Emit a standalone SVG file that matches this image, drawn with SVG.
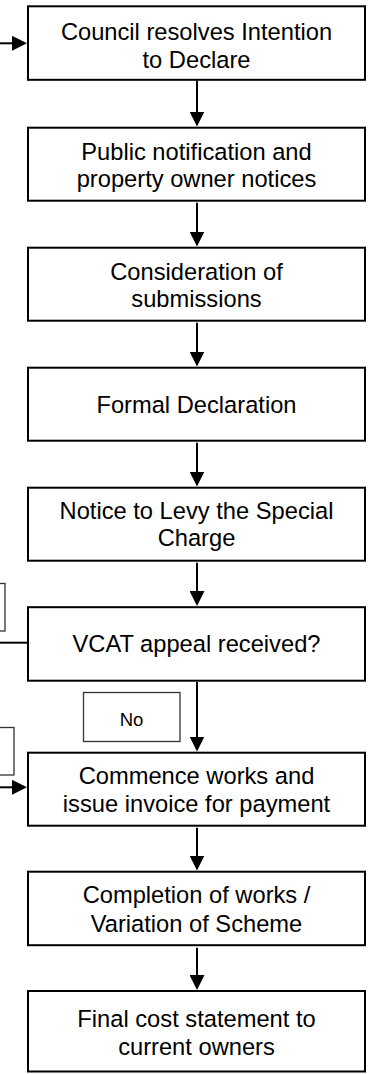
<svg xmlns="http://www.w3.org/2000/svg" width="371" height="1074" viewBox="0 0 371 1074">
<style>
.box{fill:#fff;stroke:#000;stroke-width:2}
.side{fill:#fff;stroke:#333;stroke-width:1.3}
.t{font-family:"Liberation Sans",Arial,sans-serif;font-size:23.7px;fill:#000;text-anchor:middle}
.lbl{font-family:"Liberation Sans",Arial,sans-serif;font-size:18.5px;fill:#000;text-anchor:middle}
.c{stroke:#000;stroke-width:2;fill:none}
</style>
<defs>
<marker id="ah" markerUnits="userSpaceOnUse" markerWidth="15" markerHeight="15" refX="5" refY="7.5" orient="auto">
<path d="M0,0 L15,7.5 L0,15 z" fill="#000"/>
</marker>
</defs>
<rect width="371" height="1074" fill="#fff"/>
<g id="side-labels">
<rect class="side" x="-50" y="583.5" width="55" height="47.5"/>
<rect class="side" x="-50" y="727.5" width="64" height="47.5"/>
</g>
<g id="connectors">
<line class="c" x1="0" y1="43.3" x2="17" y2="43.3" marker-end="url(#ah)"/>
<line class="c" x1="0" y1="642.7" x2="28" y2="642.7"/>
<line class="c" x1="0" y1="787.3" x2="17" y2="787.3" marker-end="url(#ah)"/>
<line class="c" x1="197" y1="80.8" x2="197" y2="116.5" marker-end="url(#ah)"/>
<line class="c" x1="197" y1="202.7" x2="197" y2="236.5" marker-end="url(#ah)"/>
<line class="c" x1="197" y1="322.7" x2="197" y2="356.5" marker-end="url(#ah)"/>
<line class="c" x1="197" y1="442.7" x2="197" y2="476.5" marker-end="url(#ah)"/>
<line class="c" x1="197" y1="562.7" x2="197" y2="596" marker-end="url(#ah)"/>
<line class="c" x1="197" y1="682" x2="197" y2="741.5" marker-end="url(#ah)"/>
<line class="c" x1="197" y1="827.7" x2="197" y2="860.5" marker-end="url(#ah)"/>
<line class="c" x1="197" y1="947.7" x2="197" y2="980" marker-end="url(#ah)"/>
</g>
<g id="n1"><rect class="box" x="28" y="6.3" width="337" height="73.5"/>
<text class="t" x="196.5" y="40">Council resolves Intention</text><text class="t" x="196.5" y="68">to Declare</text></g>
<g id="n2"><rect class="box" x="28" y="127.7" width="337" height="73"/>
<text class="t" x="196.5" y="159.5">Public notification and</text><text class="t" x="196.5" y="186.5">property owner notices</text></g>
<g id="n3"><rect class="box" x="28" y="247.7" width="337" height="73"/>
<text class="t" x="196.5" y="280">Consideration of</text><text class="t" x="196.5" y="307.3">submissions</text></g>
<g id="n4"><rect class="box" x="28" y="367.7" width="337" height="73"/>
<text class="t" x="196.5" y="412.7">Formal Declaration</text></g>
<g id="n5"><rect class="box" x="28" y="487.7" width="337" height="73"/>
<text class="t" x="196.5" y="518.5">Notice to Levy the Special</text><text class="t" x="196.5" y="545.5">Charge</text></g>
<g id="n6"><rect class="box" x="28" y="607.2" width="337" height="73.5"/>
<text class="t" x="196.5" y="651.7">VCAT appeal received?</text></g>
<g id="no-label"><rect class="side" x="83.5" y="692.5" width="96.5" height="49"/>
<text class="lbl" x="131.5" y="726">No</text></g>
<g id="n7"><rect class="box" x="28" y="752.7" width="337" height="73"/>
<text class="t" x="196.5" y="784">Commence works and</text><text class="t" x="196.5" y="811.5">issue invoice for payment</text></g>
<g id="n8"><rect class="box" x="28" y="871.7" width="337" height="73.5"/>
<text class="t" x="196.5" y="903.3">Completion of works /</text><text class="t" x="196.5" y="931.5">Variation of Scheme</text></g>
<g id="n9"><rect class="box" x="28" y="991" width="337" height="80.5"/>
<text class="t" x="196.5" y="1027.3">Final cost statement to</text><text class="t" x="196.5" y="1055">current owners</text></g>
</svg>
